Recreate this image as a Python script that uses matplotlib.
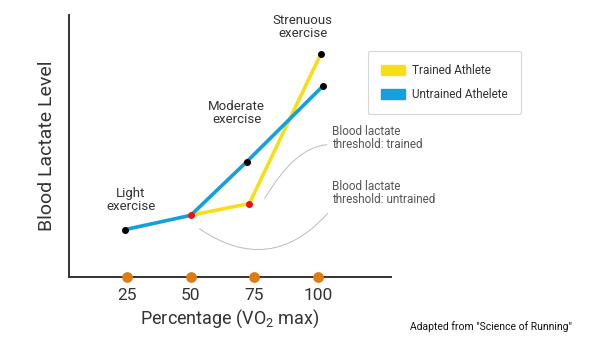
import matplotlib.pyplot as plt
from matplotlib.patches import Patch

plt.rcParams['font.family'] = ['Roboto', 'DejaVu Sans']
plt.rcParams['mathtext.fontset'] = 'custom'
plt.rcParams['mathtext.rm'] = 'Roboto'

# Data (arbitrary lactate units)
untrained_x = [24, 50, 72, 102]
untrained_y = [1.8, 2.35, 4.4, 7.3]
trained_x = [50, 73, 101]
trained_y = [2.35, 2.8, 8.5]
threshold_x = [50, 73]
threshold_y = [2.35, 2.8]
pct_ticks = [25, 50, 75, 100]
legend_labels = ["Trained Athlete", "Untrained Athelete"]

yellow = "#F6DF16"
blue = "#14A0DC"
orange = "#E07A12"

fig = plt.figure(figsize=(6, 3.5), dpi=100)
ax = fig.add_axes([0.115, 0.209, 0.537, 0.748])

ax.plot(trained_x, trained_y, color=yellow, lw=2.6, solid_capstyle="round", zorder=2)
ax.plot(untrained_x, untrained_y, color=blue, lw=2.6, solid_capstyle="round", zorder=3)
ax.scatter([untrained_x[0], untrained_x[2], untrained_x[3], trained_x[2]],
           [untrained_y[0], untrained_y[2], untrained_y[3], trained_y[2]],
           s=16, color="black", zorder=5)
ax.scatter(threshold_x, threshold_y, s=16, color="#F01010", zorder=5)
ax.scatter(pct_ticks, [0] * len(pct_ticks), s=45, color=orange, zorder=6, clip_on=False)

ax.set_xlim(2.2, 128.7)
ax.set_ylim(0, 10)
for side in ["top", "right"]:
    ax.spines[side].set_visible(False)
for side in ["left", "bottom"]:
    ax.spines[side].set_color("#333333")
    ax.spines[side].set_linewidth(1.4)
ax.set_yticks([])
ax.set_xticks(pct_ticks)
ax.set_xticklabels([str(t) for t in pct_ticks], fontsize=12.5, color="#333333")
ax.tick_params(axis="x", length=0, pad=8)

ax.set_xlabel("Percentage (VO$_2$ max)", fontsize=13, color="#333333", labelpad=3)
ax.set_ylabel("Blood Lactate Level", fontsize=14, color="#333333", labelpad=9)

note = dict(ha="center", va="center", fontsize=9.5, color="#333333", linespacing=1.0)
ax.text(26.5, 2.95, "Light\nexercise", **note)
ax.text(68, 6.25, "Moderate\nexercise", **note)
ax.text(94, 9.55, "Strenuous\nexercise", **note)

small = dict(ha="left", va="center", fontsize=8.5, color="#555555", linespacing=1.0)
ax.text(105.5, 5.3, "Blood lactate\nthreshold: trained", clip_on=False, **small)
ax.text(105.5, 3.2, "Blood lactate\nthreshold: untrained", clip_on=False, **small)

curve = dict(arrowstyle="-", color="#BBBBBB", lw=0.7)
ax.annotate("", xy=(78.5, 2.9), xytext=(104.5, 5.05),
            arrowprops=dict(connectionstyle="angle3,angleA=180,angleB=60", **curve),
            annotation_clip=False)
ax.annotate("", xy=(52.5, 1.9), xytext=(104.5, 2.5),
            arrowprops=dict(connectionstyle="arc3,rad=-0.45", **curve),
            annotation_clip=False)

handles = [Patch(color=yellow), Patch(color=blue)]
leg = fig.legend(handles, legend_labels, loc="upper left", bbox_to_anchor=(0.603, 0.872),
                 fontsize=8.5, frameon=True, fancybox=True, handlelength=2.0, handleheight=0.9,
                 borderpad=1.15, labelspacing=0.9, handletextpad=0.6, edgecolor="#CCCCCC")
for t in leg.get_texts():
    t.set_color("#333333")
leg.get_frame().set_linewidth(0.8)

fig.text(0.683, 0.058, "Adapted from \"Science of Running\"", fontsize=7.5, color="#111111")

fig.savefig("out.png", dpi=100)
